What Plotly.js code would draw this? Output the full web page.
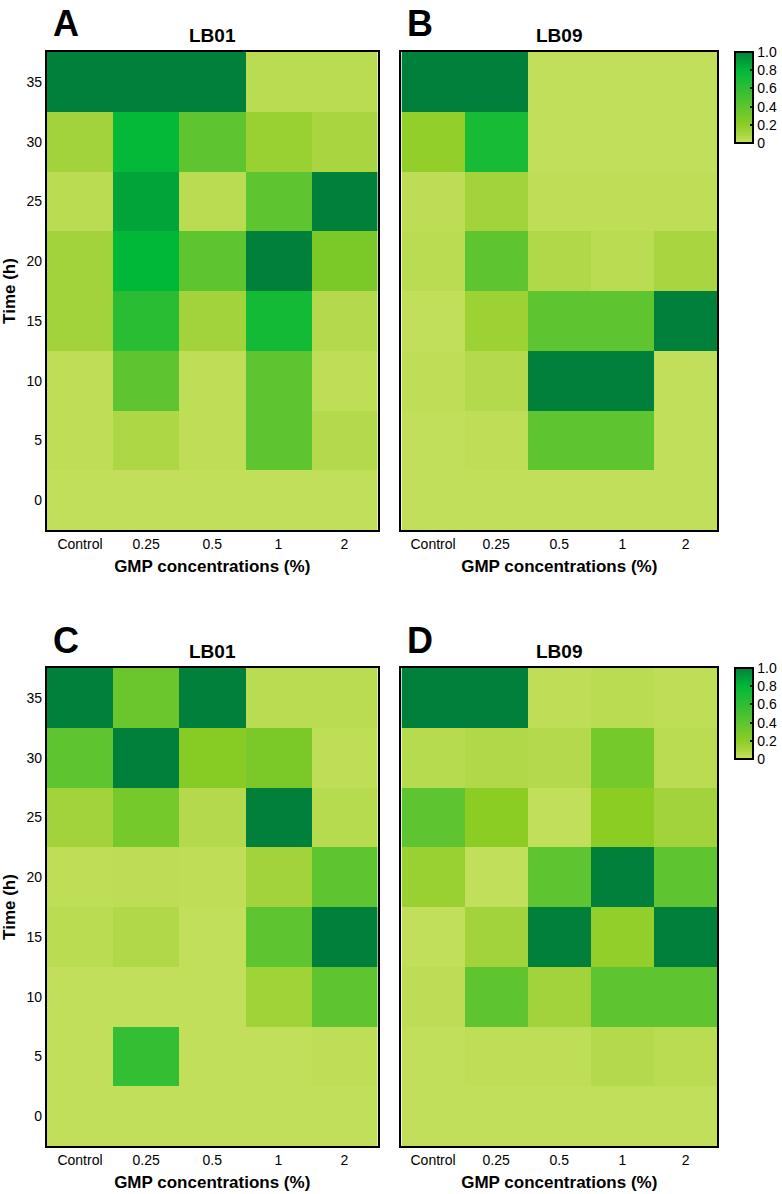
<!DOCTYPE html>
<html>
<head>
<meta charset="utf-8">
<script src="https://cdn.plot.ly/plotly-3.0.1.min.js"></script>
<style>
html,body{margin:0;padding:0;background:#fff;}
#chart{width:782px;height:1194px;}
</style>
</head>
<body>
<div id="chart"></div>
<script>
// Categories
const concentrations = ['Control', '0.25', '0.5', '1', '2'];
const times = ['35', '30', '25', '20', '15', '10', '5', '0'];

// Values: rows follow `times` (35 h at top), columns follow `concentrations`
const zA = [
  [1.00, 1.00, 1.00, 0.04, 0.04],
  [0.12, 0.78, 0.40, 0.15, 0.10],
  [0.04, 0.87, 0.04, 0.40, 1.00],
  [0.12, 0.80, 0.40, 1.00, 0.28],
  [0.12, 0.62, 0.12, 0.72, 0.06],
  [0.02, 0.40, 0.02, 0.40, 0.02],
  [0.02, 0.08, 0.02, 0.40, 0.06],
  [0.01, 0.01, 0.01, 0.01, 0.01]
];
const zB = [
  [1.00, 1.00, 0.01, 0.01, 0.01],
  [0.18, 0.70, 0.01, 0.01, 0.01],
  [0.03, 0.12, 0.02, 0.02, 0.02],
  [0.04, 0.40, 0.07, 0.04, 0.10],
  [0.01, 0.14, 0.40, 0.40, 1.00],
  [0.02, 0.06, 1.00, 1.00, 0.01],
  [0.01, 0.02, 0.40, 0.40, 0.01],
  [0.01, 0.01, 0.01, 0.01, 0.01]
];
const zC = [
  [1.00, 0.35, 1.00, 0.04, 0.04],
  [0.40, 1.00, 0.22, 0.28, 0.02],
  [0.12, 0.30, 0.06, 1.00, 0.05],
  [0.02, 0.03, 0.02, 0.12, 0.40],
  [0.04, 0.07, 0.01, 0.40, 1.00],
  [0.01, 0.01, 0.01, 0.13, 0.40],
  [0.01, 0.58, 0.01, 0.01, 0.02],
  [0.01, 0.01, 0.01, 0.01, 0.01]
];
const zD = [
  [1.00, 1.00, 0.02, 0.04, 0.02],
  [0.05, 0.07, 0.06, 0.30, 0.04],
  [0.40, 0.20, 0.01, 0.20, 0.12],
  [0.15, 0.01, 0.40, 1.00, 0.40],
  [0.01, 0.12, 1.00, 0.18, 1.00],
  [0.03, 0.40, 0.12, 0.40, 0.40],
  [0.01, 0.02, 0.02, 0.06, 0.04],
  [0.01, 0.01, 0.01, 0.01, 0.01]
];
const panelTitles = ['LB01', 'LB09', 'LB01', 'LB09'];
const panelLetters = ['A', 'B', 'C', 'D'];
const cbTickVals = [0, 0.2, 0.4, 0.6, 0.8, 1.0];
const cbTickText = ['0', '0.2', '0.4', '0.6', '0.8', '1.0'];

const W = 782, H = 1194;
const FONT = 'Arial, "Liberation Sans", Helvetica, sans-serif';

const greens = [
  [0.0, '#c5e05e'],
  [0.1, '#a8d540'],
  [0.2, '#8ccd24'],
  [0.4, '#5ec42f'],
  [0.6, '#2ebd33'],
  [0.8, '#00b838'],
  [1.0, '#00803a']
];

// pixel boxes of the four plot areas [left, right, top, bottom]
const boxes = [
  [47, 378, 52, 530],
  [402, 718, 52, 530],
  [47, 378, 668, 1146],
  [402, 718, 668, 1146]
];
const px = v => v / W;
const py = v => 1 - v / H;

const zs = [zA, zB, zC, zD];
const traces = zs.map((z, i) => ({
  type: 'heatmap',
  x: concentrations,
  y: times,
  z: z,
  xaxis: i === 0 ? 'x' : 'x' + (i + 1),
  yaxis: i === 0 ? 'y' : 'y' + (i + 1),
  coloraxis: i < 2 ? 'coloraxis' : 'coloraxis2',
  zsmooth: false,
  hoverinfo: 'x+y+z'
}));

function cbar(topPx) {
  return {
    x: px(735), xanchor: 'left',
    y: py(topPx), yanchor: 'top',
    len: 91, lenmode: 'pixels',
    thickness: 18, thicknessmode: 'pixels',
    outlinewidth: 2, outlinecolor: '#000',
    ticks: 'inside', ticklen: 4, tickwidth: 2, tickcolor: '#000',
    tickvals: cbTickVals, ticktext: cbTickText,
    tickfont: {family: FONT, size: 14, color: '#000'},
    xpad: 0, ypad: 0
  };
}

const layout = {
  width: W, height: H,
  margin: {l: 0, r: 0, t: 0, b: 0},
  paper_bgcolor: '#fff',
  plot_bgcolor: '#fff',
  font: {family: FONT, color: '#000'},
  showlegend: false,
  coloraxis: {cmin: 0, cmax: 1, colorscale: greens, colorbar: cbar(52)},
  coloraxis2: {cmin: 0, cmax: 1, colorscale: greens, colorbar: cbar(668)},
  annotations: []
};

boxes.forEach((b, i) => {
  const sx = i === 0 ? '' : String(i + 1);
  layout['xaxis' + sx] = {
    domain: [px(b[0]), px(b[1])],
    anchor: 'y' + sx,
    type: 'category',
    showline: true, mirror: true, linewidth: 2, linecolor: '#000',
    showgrid: false, zeroline: false, ticks: '',
    tickfont: {family: FONT, size: 14, color: '#000'},
    title: {text: 'GMP concentrations (%)', font: {family: FONT, size: 17, color: '#000', weight: 'bold'}, standoff: 9},
    fixedrange: true
  };
  layout['yaxis' + sx] = {
    domain: [py(b[3]), py(b[2])],
    anchor: 'x' + sx,
    type: 'category',
    autorange: 'reversed',
    showline: true, mirror: true, linewidth: 2, linecolor: '#000',
    showgrid: false, zeroline: false, ticks: '',
    showticklabels: (i % 2 === 0),
    tickfont: {family: FONT, size: 14, color: '#000'},
    title: (i % 2 === 0) ? {text: 'Time (h)', font: {family: FONT, size: 17, color: '#000', weight: 'bold'}, standoff: 8} : {text: ''},
    fixedrange: true
  };
  layout.annotations.push({
    xref: 'paper', yref: 'paper',
    x: px((b[0] + b[1]) / 2), y: py(b[2] - 4),
    xanchor: 'center', yanchor: 'bottom',
    text: '<b>' + panelTitles[i] + '</b>',
    showarrow: false,
    font: {family: FONT, size: 19, color: '#000'}
  });
  layout.annotations.push({
    xref: 'paper', yref: 'paper',
    x: px(b[0] + 4), y: py(b[2] - 28),
    xanchor: 'left', yanchor: 'middle',
    text: '<b>' + panelLetters[i] + '</b>',
    showarrow: false,
    font: {family: FONT, size: 36, color: '#000'}
  });
});

Plotly.newPlot('chart', traces, layout, {displayModeBar: false, staticPlot: true});
</script>
</body>
</html>
